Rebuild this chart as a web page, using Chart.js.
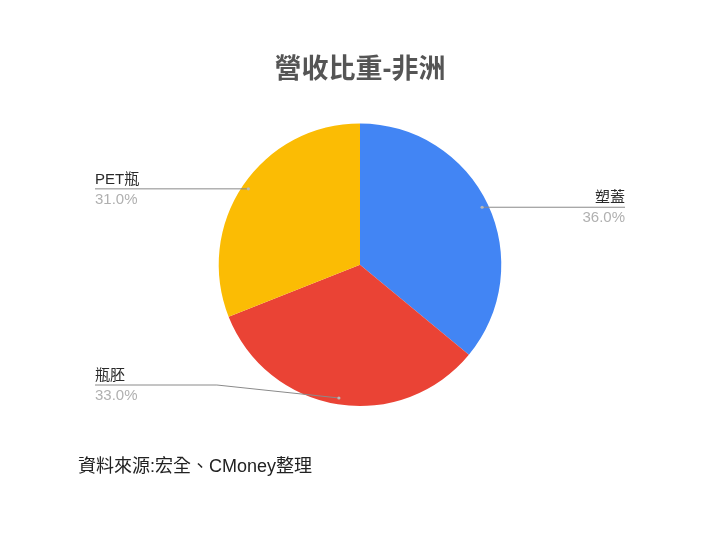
<!DOCTYPE html>
<html>
<head>
<meta charset="utf-8">
<script src="https://cdn.jsdelivr.net/npm/chart.js@4"></script>
<style>
  html, body { margin: 0; padding: 0; background: #fff; }
  #wrap { position: relative; width: 720px; height: 540px; }
  #source { position: absolute; left: 78px; top: 451px; font-family: "Liberation Sans", Arial, "Noto Sans CJK TC", sans-serif; font-size: 18px; color: #222; }
</style>
</head>
<body>
<div id="wrap">
  <canvas id="c" width="720" height="540"></canvas>
  <div id="source">資料來源:宏全、CMoney整理</div>
</div>
<script>
const title = "營收比重-非洲";
const categories = ["塑蓋", "瓶胚", "PET瓶"];
const values = [36.0, 33.0, 31.0];
const colors = ["#4285F4", "#EA4335", "#FBBC04"];

const FONT = '"Liberation Sans", Arial, "Noto Sans CJK TC", sans-serif';

const leaderPlugin = {
  id: 'leaders',
  afterDatasetsDraw(chart) {
    const ctx = chart.ctx;
    const meta = chart.getDatasetMeta(0);
    const area = chart.chartArea;
    const total = values.reduce((a, b) => a + b, 0);
    const leftX = 95, rightX = 625;
    meta.data.forEach((arc, i) => {
      const mid = (arc.startAngle + arc.endAngle) / 2;
      const r = arc.outerRadius * 0.955;
      const px = arc.x + Math.cos(mid) * r;
      const py = arc.y + Math.sin(mid) * r;
      const right = Math.cos(mid) >= 0;
      const ly = Math.min(py, area.bottom - 21);
      const endX = right ? rightX : leftX;
      ctx.save();
      ctx.strokeStyle = '#8a8a8a';
      ctx.lineWidth = 1;
      ctx.beginPath();
      ctx.moveTo(px, py);
      if (Math.abs(ly - py) > 0.5) {
        const elbowX = px + (right ? 1 : -1) * 122;
        ctx.lineTo(elbowX, ly);
      }
      ctx.lineTo(endX, ly);
      ctx.stroke();
      ctx.fillStyle = '#b8b8b8';
      ctx.beginPath();
      ctx.arc(px, py, 1.6, 0, Math.PI * 2);
      ctx.fill();
      ctx.textAlign = right ? 'right' : 'left';
      ctx.textBaseline = 'middle';
      ctx.font = '15px ' + FONT;
      ctx.fillStyle = '#2a2a2a';
      ctx.fillText(categories[i], endX, ly - 9);
      ctx.fillStyle = '#b0b0b0';
      ctx.fillText((values[i] / total * 100).toFixed(1) + '%', endX, ly + 11);
      ctx.restore();
    });
  }
};

new Chart(document.getElementById('c'), {
  type: 'pie',
  data: {
    labels: categories,
    datasets: [{
      data: values,
      backgroundColor: colors,
      borderWidth: 0
    }]
  },
  options: {
    responsive: false,
    animation: false,
    layout: { padding: { top: 0, bottom: 134, left: 0, right: 0 } },
    plugins: {
      legend: { display: false },
      tooltip: { enabled: false },
      title: {
        display: true,
        text: title,
        color: '#555',
        font: { family: FONT, size: 27, weight: 'bold' },
        padding: { top: 54, bottom: 37 }
      }
    }
  },
  plugins: [leaderPlugin]
});
</script>
</body>
</html>
